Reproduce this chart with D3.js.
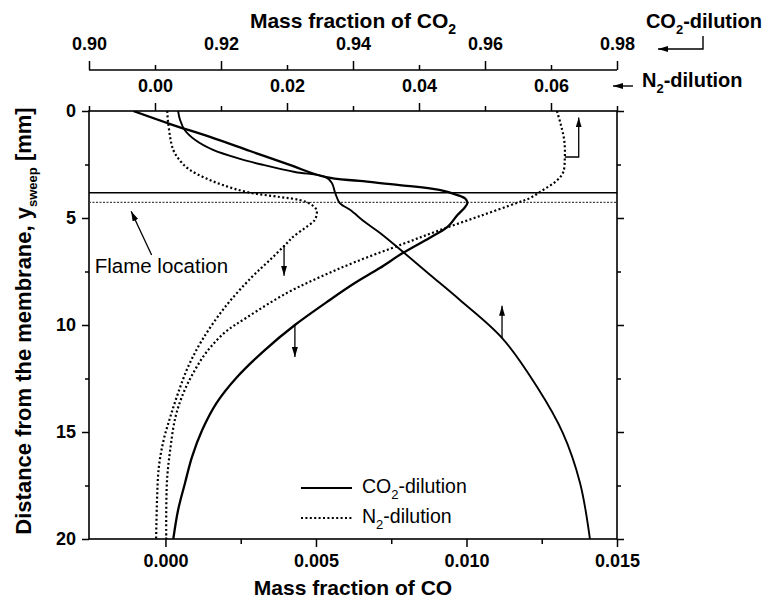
<!DOCTYPE html>
<html>
<head>
<meta charset="utf-8">
<script src="https://cdn.jsdelivr.net/npm/d3@7"></script>
<style>
  body { margin: 0; background: #fff; }
  svg text { font-family: "Liberation Sans", Arial, sans-serif; fill: #000; }
</style>
</head>
<body>
<div id="chart"></div>
<script>
// CO mass fraction, CO2-dilution (solid, bottom axis)
const depthCoCo2 = [0, 0.61, 1.21, 1.87, 2.52, 3.08, 3.27, 3.46, 3.69, 3.93, 4.11, 4.30, 4.53, 4.86, 5.42, 5.93, 6.64, 7.34, 8.04, 8.83, 10.0, 11.17, 12.43, 13.64, 14.91, 16.17, 17.38, 18.64, 20.0];
const coCo2Dil = [-0.00107, 0.00016, 0.00148, 0.00281, 0.00413, 0.00529, 0.00645, 0.00778, 0.00910, 0.00970, 0.00997, 0.01003, 0.00993, 0.00970, 0.00937, 0.00877, 0.00788, 0.00712, 0.00629, 0.00546, 0.00430, 0.00330, 0.00238, 0.00170, 0.00122, 0.00088, 0.00065, 0.00042, 0.00026];

// CO mass fraction, N2-dilution (dotted, bottom axis)
const depthCoN2 = [0, 0.56, 1.82, 2.38, 2.76, 3.13, 3.46, 3.79, 4.02, 4.16, 4.35, 4.63, 5.09, 5.47, 5.89, 6.17, 6.96, 7.76, 9.16, 10.70, 11.96, 13.18, 14.30, 15.37, 16.64, 18.18, 20];
const coN2Dil = [0.00006, 0.00009, 0.00026, 0.00052, 0.00082, 0.00132, 0.00191, 0.00271, 0.00380, 0.00446, 0.00482, 0.00502, 0.00496, 0.00463, 0.00423, 0.00404, 0.00347, 0.00287, 0.00198, 0.00122, 0.00075, 0.00042, 0.00016, -0.00006, -0.00022, -0.00028, -0.00031];

// CO2 mass fraction, CO2-dilution (solid, upper top axis 0.90-0.98)
const depthCo2Co2 = [0, 0.42, 0.89, 1.36, 1.82, 2.24, 2.52, 2.85, 3.08, 3.36, 3.83, 4.30, 4.63, 5.19, 5.70, 6.59, 7.66, 8.83, 10.61, 12.90, 15.05, 17.38, 20];
const co2Co2Dil = [0.9135, 0.9138, 0.9145, 0.9161, 0.9188, 0.9229, 0.9264, 0.9312, 0.9358, 0.9368, 0.9373, 0.9380, 0.9396, 0.9418, 0.9441, 0.9476, 0.9517, 0.9562, 0.9626, 0.9679, 0.9718, 0.9744, 0.9759];

// CO2 mass fraction, N2-dilution (dotted, lower top axis)
const depthCo2N2 = [0, 0.65, 1.36, 2.15, 2.90, 3.32, 3.69, 4.07, 4.30, 4.91, 5.56, 6.21, 7.06, 7.76, 8.50, 9.63, 10.37, 11.31, 12.24, 13.18, 14.30, 15.84, 17.38, 20];
const co2N2Dil = [0.0609, 0.0615, 0.0620, 0.0621, 0.0618, 0.0606, 0.0588, 0.0568, 0.0548, 0.0492, 0.0432, 0.0376, 0.0303, 0.0250, 0.0200, 0.0140, 0.0105, 0.0077, 0.0058, 0.0043, 0.0031, 0.0023, 0.0018, 0.0017];

// flame locations [mm]: CO2-dilution, N2-dilution
const flameDepth = [3.82, 4.27];

// tick values
const coTicks = [0, 0.005, 0.010, 0.015];
const coMinor = [0.0025, 0.0075, 0.0125];
const depthTicks = [0, 5, 10, 15, 20];
const depthMinor = [2.5, 7.5, 12.5, 17.5];
const co2Ticks = [0.90, 0.92, 0.94, 0.96, 0.98];
const co2Minor = [0.91, 0.93, 0.95, 0.97];
const n2Ticks = [0.00, 0.02, 0.04, 0.06];
const n2Minor = [-0.01, 0.01, 0.03, 0.05, 0.07];

const W = 775, H = 604;
const L = 89, R = 617, T = 111, B = 539;

const svg = d3.select("#chart").append("svg")
    .attr("width", W).attr("height", H);

const x = d3.scaleLinear().domain([-0.00254, 0.015]).range([L, R]);
const xCO2 = d3.scaleLinear().domain([0.90, 0.98]).range([L, R]);
const xN2 = d3.scaleLinear().domain([-0.01, 0.07]).range([L, R]);
const y = d3.scaleLinear().domain([0, 20]).range([T, B]);

const defs = svg.append("defs");
defs.append("clipPath").attr("id", "plot-clip")
    .append("rect").attr("x", L).attr("y", T).attr("width", R - L).attr("height", B - T);
defs.append("marker")
    .attr("id", "head")
    .attr("markerUnits", "userSpaceOnUse")
    .attr("viewBox", "0 0 10 6")
    .attr("refX", 10).attr("refY", 3)
    .attr("markerWidth", 10).attr("markerHeight", 6)
    .attr("orient", "auto")
    .append("path").attr("d", "M0,0 L10,3 L0,6 Z").attr("fill", "#000");

function styleAxis(g, fontSize) {
    g.select(".domain").remove();
    g.attr("font-family", null).attr("font-size", null);
    g.selectAll("line").attr("stroke", "#000").attr("stroke-width", 1.5);
    g.selectAll("text").attr("font-size", fontSize).attr("font-weight", "bold");
}

// bottom axis
svg.append("g").attr("transform", `translate(0,${B})`)
    .call(d3.axisBottom(x).tickValues(coTicks).tickFormat(d3.format(".3f")).tickSize(8).tickPadding(7))
    .call(g => styleAxis(g, 18));
svg.append("g").attr("transform", `translate(0,${B})`)
    .call(d3.axisBottom(x).tickValues(coMinor).tickFormat("").tickSize(5))
    .call(g => styleAxis(g, 18));

// left axis
svg.append("g").attr("transform", `translate(${L},0)`)
    .call(d3.axisLeft(y).tickValues(depthTicks).tickSize(7).tickPadding(6))
    .call(g => styleAxis(g, 18));
svg.append("g").attr("transform", `translate(${L},0)`)
    .call(d3.axisLeft(y).tickValues(depthMinor).tickFormat("").tickSize(4))
    .call(g => styleAxis(g, 18));

// right axis (ticks only)
svg.append("g").attr("transform", `translate(${R},0)`)
    .call(d3.axisRight(y).tickValues(depthTicks).tickFormat("").tickSize(7))
    .call(g => styleAxis(g, 18));
svg.append("g").attr("transform", `translate(${R},0)`)
    .call(d3.axisRight(y).tickValues(depthMinor).tickFormat("").tickSize(4))
    .call(g => styleAxis(g, 18));

// top N2-dilution axis (plot top edge)
svg.append("g").attr("transform", `translate(0,${T})`)
    .call(d3.axisTop(xN2).tickValues(n2Ticks).tickFormat(d3.format(".2f")).tickSize(8).tickPadding(11))
    .call(g => styleAxis(g, 18));
svg.append("g").attr("transform", `translate(0,${T})`)
    .call(d3.axisTop(xN2).tickValues(n2Minor).tickFormat("").tickSize(5))
    .call(g => styleAxis(g, 18));

// separate CO2-dilution axis above
const co2AxisY = 70;
svg.append("line").attr("x1", L).attr("x2", R).attr("y1", co2AxisY).attr("y2", co2AxisY)
    .attr("stroke", "#000").attr("stroke-width", 1.5);
svg.append("g").attr("transform", `translate(0,${co2AxisY})`)
    .call(d3.axisTop(xCO2).tickValues(co2Ticks).tickFormat(d3.format(".2f")).tickSize(9).tickPadding(11))
    .call(g => styleAxis(g, 18));
svg.append("g").attr("transform", `translate(0,${co2AxisY})`)
    .call(d3.axisTop(xCO2).tickValues(co2Minor).tickFormat("").tickSize(5))
    .call(g => styleAxis(g, 18));

// plot frame
svg.append("rect").attr("x", L).attr("y", T).attr("width", R - L).attr("height", B - T)
    .attr("fill", "none").attr("stroke", "#000").attr("stroke-width", 1.6);

const plot = svg.append("g").attr("clip-path", "url(#plot-clip)");

// flame location lines
plot.selectAll(".flame").data(flameDepth).join("line")
    .attr("x1", L).attr("x2", R)
    .attr("y1", d => y(d)).attr("y2", d => y(d))
    .attr("stroke", (d, i) => i === 0 ? "#000" : "#444")
    .attr("stroke-width", (d, i) => i === 0 ? 1.6 : 1.4)
    .attr("stroke-dasharray", (d, i) => i === 0 ? null : "2,1.5");

function curve(xs, ys, sx) {
    return d3.line()
        .x((d, i) => sx(xs[i]))
        .y((d, i) => y(ys[i]))
        .curve(d3.curveCatmullRom.alpha(0.5))(xs);
}

const series = [
    { xs: coCo2Dil, ys: depthCoCo2, sx: x, width: 2.3, dash: null },
    { xs: co2Co2Dil, ys: depthCo2Co2, sx: xCO2, width: 1.9, dash: null },
    { xs: coN2Dil, ys: depthCoN2, sx: x, width: 2.2, dash: "2,2.4" },
    { xs: co2N2Dil, ys: depthCo2N2, sx: xN2, width: 2.2, dash: "2,2.4" }
];
series.forEach(s => {
    plot.append("path")
        .attr("d", curve(s.xs, s.ys, s.sx))
        .attr("fill", "none")
        .attr("stroke", "#000")
        .attr("stroke-width", s.width)
        .attr("stroke-dasharray", s.dash);
});

// arrows showing which axis each curve belongs to
function arrow(points, w) {
    svg.append("path")
        .attr("d", d3.line()(points))
        .attr("fill", "none").attr("stroke", "#000").attr("stroke-width", w || 1.3)
        .attr("marker-end", "url(#head)");
}
arrow([[x(0.0043), y(10.0)], [x(0.0043), y(11.5)]]);
arrow([[x(0.00394), y(6.26)], [x(0.00394), y(7.7)]]);
arrow([[xCO2(0.96258), y(10.61)], [xCO2(0.96258), y(9.1)]]);
arrow([[xN2(0.0621), y(2.15)], [xN2(0.0642), y(2.15)], [xN2(0.0642), y(0.3)]]);

// flame location annotation
arrow([[x(-0.00046), y(6.73)], [x(-0.00114), y(4.68)]]);
svg.append("text").attr("x", x(-0.00235)).attr("y", y(7.57))
    .attr("font-size", 20.5).text("Flame location");

// legend
const legend = [
    { label: "CO", sub: "2", rest: "-dilution", dash: null, w: 2 },
    { label: "N", sub: "2", rest: "-dilution", dash: "2,2.4", w: 2.2 }
];
legend.forEach((d, i) => {
    const ly = 488 + i * 30;
    svg.append("line").attr("x1", 301).attr("x2", 352).attr("y1", ly).attr("y2", ly)
        .attr("stroke", "#000").attr("stroke-width", d.w).attr("stroke-dasharray", d.dash);
    const t = svg.append("text").attr("x", 362).attr("y", ly + 5).attr("font-size", 19.5);
    t.append("tspan").text(d.label);
    t.append("tspan").attr("dy", 6).attr("font-size", 13).text(d.sub);
    t.append("tspan").attr("dy", -6).text(d.rest);
});

// axis titles
svg.append("text").attr("x", (L + R) / 2).attr("y", 595)
    .attr("text-anchor", "middle").attr("font-size", 21).attr("font-weight", "bold")
    .text("Mass fraction of CO");

const topTitle = svg.append("text").attr("x", (L + R) / 2).attr("y", 28)
    .attr("text-anchor", "middle").attr("font-size", 21).attr("font-weight", "bold");
topTitle.append("tspan").text("Mass fraction of CO");
topTitle.append("tspan").attr("dy", 6).attr("font-size", 14).text("2");

const yTitle = svg.append("text").attr("transform", `translate(31,${(T + B) / 2 - 4}) rotate(-90)`)
    .attr("text-anchor", "middle").attr("font-size", 22).attr("font-weight", "bold");
yTitle.append("tspan").text("Distance from the membrane, y");
yTitle.append("tspan").attr("dy", 6).attr("font-size", 13).text("sweep");
yTitle.append("tspan").attr("dy", -6).text(" [mm]");

// dilution labels at top right
const co2Lab = svg.append("text").attr("x", 762).attr("y", 28)
    .attr("text-anchor", "end").attr("font-size", 20).attr("font-weight", "bold");
co2Lab.append("tspan").text("CO");
co2Lab.append("tspan").attr("dy", 6).attr("font-size", 13).text("2");
co2Lab.append("tspan").attr("dy", -6).text("-dilution");
arrow([[703, 36], [703, 49], [658, 49]], 1.4);

const n2Lab = svg.append("text").attr("x", 642).attr("y", 87)
    .attr("font-size", 20).attr("font-weight", "bold");
n2Lab.append("tspan").text("N");
n2Lab.append("tspan").attr("dy", 6).attr("font-size", 13).text("2");
n2Lab.append("tspan").attr("dy", -6).text("-dilution");
arrow([[633, 86], [613, 86]], 1.4);
</script>
</body>
</html>
